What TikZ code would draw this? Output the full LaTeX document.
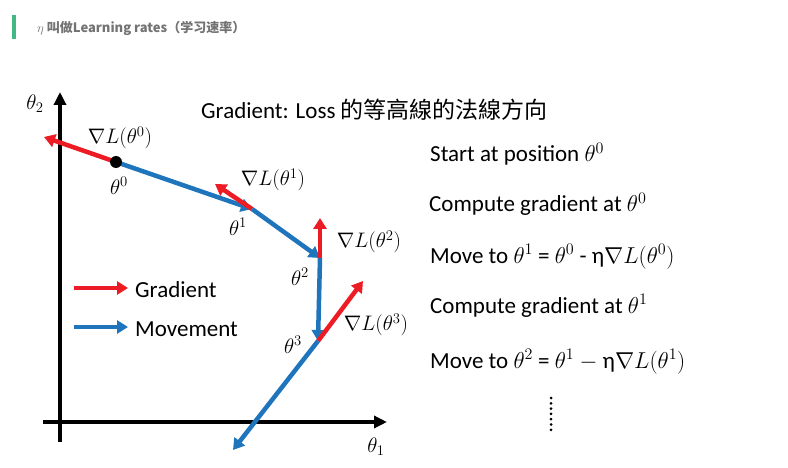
\RequirePackage{fix-cm}
\documentclass[tikz,border=0pt]{standalone}
\usepackage{fontspec}
\setmainfont{Carlito}
\newfontfamily\cjktc{Noto Sans CJK TC}
\newfontfamily\cjksc{Noto Sans CJK SC}
\usetikzlibrary{arrows.meta}
\definecolor{gradred}{RGB}{237,28,36}
\definecolor{moveblue}{RGB}{30,117,188}
\definecolor{bargreen}{RGB}{66,185,131}
\definecolor{headgray}{RGB}{115,115,115}

\begin{document}
\begin{tikzpicture}[x=1pt,y=-1pt,
  axis/.style={line width=3.5pt,-{Triangle[length=13pt,width=12pt]}},
  grad/.style={draw=gradred,fill=gradred,line width=4.5pt,-{Triangle[length=11pt,width=13pt]}},
  move/.style={draw=moveblue,fill=moveblue,line width=4.5pt,-{Triangle[length=11pt,width=13pt]}},
  lbl/.style={font=\fontsize{21}{25}\selectfont,inner sep=0pt},
  txt/.style={font=\fontsize{23}{28}\selectfont,anchor=base west,inner sep=0pt}]
\useasboundingbox (0,0) rectangle (788,468);
\fill[white] (0,0) rectangle (788,468);

\fill[bargreen] (12,15) rectangle (16,39);
\node[anchor=base west,inner sep=0pt,text=headgray,font=\cjksc\bfseries\fontsize{13}{16}\selectfont] (head) at (37,33) {$\eta$ 叫做Learning rates（学习速率）};

\node[txt] (title) at (201,119) {Gradient: Loss {\cjktc 的等高線的法線方向}};

\coordinate (ybot) at (60,442);
\coordinate (ytop) at (60,92);
\coordinate (xleft) at (43,422);
\coordinate (xright) at (387,422);
\draw[axis] (ybot) -- (ytop);
\draw[axis] (xleft) -- (xright);
\node[lbl] (th2axis) at (35,104) {$\theta_2$};
\node[lbl] (th1axis) at (376,447) {$\theta_1$};

\coordinate (t0) at (116,162);
\coordinate (t1) at (252,209);
\coordinate (t2) at (320,258);
\coordinate (t3) at (318,341);
\coordinate (t4) at (233,450);
\coordinate (g0) at (44,137);
\coordinate (g1) at (215,184);
\coordinate (g2) at (320,218);
\coordinate (g3) at (363,281);

\draw[grad] (t0) -- (g0);
\draw[move] (t0) -- (t1);
\draw[grad] (t1) -- (g1);
\draw[move] (t1) -- (t2);
\draw[grad] (t2) -- (g2);
\draw[move] (t2) -- (t3);
\draw[grad] (t3) -- (g3);
\draw[move] (t3) -- (t4);
\fill (t0) circle (6pt);

\node[lbl] (lg0) at (120,138) {$\nabla L(\theta^0)$};
\node[lbl] (lt0) at (119,186) {$\theta^0$};
\node[lbl] (lg1) at (273,180) {$\nabla L(\theta^1)$};
\node[lbl] (lt1) at (238,227) {$\theta^1$};
\node[lbl] (lg2) at (369,242) {$\nabla L(\theta^2)$};
\node[lbl] (lt2) at (300,277) {$\theta^2$};
\node[lbl] (lg3) at (376,325) {$\nabla L(\theta^3)$};
\node[lbl] (lt3) at (293,345) {$\theta^3$};

\coordinate (leg1a) at (74,288);
\coordinate (leg1b) at (128,288);
\coordinate (leg2a) at (74,327);
\coordinate (leg2b) at (128,327);
\draw[grad] (leg1a) -- (leg1b);
\draw[move] (leg2a) -- (leg2b);
\node[txt] (leggrad) at (135,298) {Gradient};
\node[txt] (legmove) at (135,336) {Movement};

\node[txt] (step1) at (430,162) {Start at position $\theta^0$};
\node[txt] (step2) at (429,212) {Compute gradient at $\theta^0$};
\node[txt] (step3) at (430,263) {Move to $\theta^1$ = $\theta^0$ - η$\nabla L(\theta^0)$};
\node[txt] (step4) at (430,313) {Compute gradient at $\theta^1$};
\node[txt] (step5) at (430,368) {Move to $\theta^2$ = $\theta^1$ $-$ η$\nabla L(\theta^1)$};
\foreach \k in {0,...,6}
  \fill (551,{398+5.3*\k}) circle (1.5pt);
\end{tikzpicture}
\end{document}
